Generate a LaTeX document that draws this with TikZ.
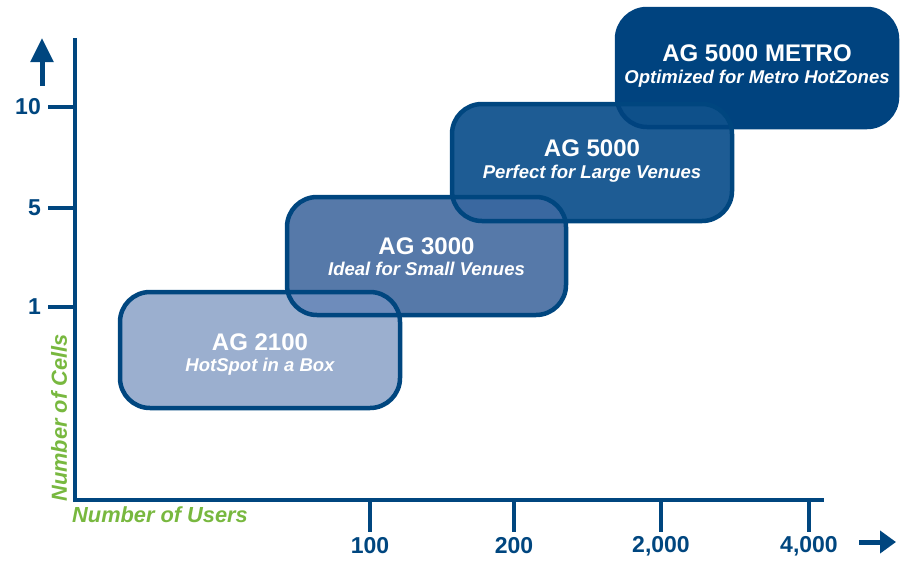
\documentclass[tikz,border=0pt]{standalone}
\usepackage{fontspec}
\setmainfont{Liberation Sans}
\usetikzlibrary{arrows.meta}
\definecolor{axisblue}{HTML}{00467F}
\definecolor{greenlab}{HTML}{78B83F}
\definecolor{boxA}{HTML}{9BAFCF}
\definecolor{boxB}{HTML}{5679A9}
\definecolor{boxC}{HTML}{1E5C94}
\definecolor{boxD}{HTML}{00437F}
\definecolor{ovAB}{HTML}{6E8CBB}
\definecolor{ovBC}{HTML}{3A68A0}
\definecolor{ovCD}{HTML}{0E508A}
\begin{document}
\begin{tikzpicture}[x=1pt,y=-1pt,
  axisline/.style={draw=axisblue, line width=3.5pt},
  tickline/.style={draw=axisblue, line width=4.5pt},
  bigarrow/.style={draw=axisblue, line width=5pt, -{Triangle[length=24pt,width=22pt]}},
  boxshape/.style={rounded corners=30pt},
  boxline/.style={draw=axisblue, line width=4.5pt, rounded corners=30pt},
  ttl/.style={text=white, font=\fontsize{24}{27}\selectfont\bfseries, anchor=base, inner sep=0pt},
  sub/.style={text=white, font=\fontsize{18.5}{21}\selectfont\bfseries\itshape, anchor=base, inner sep=0pt},
  tkl/.style={text=axisblue, font=\fontsize{23}{25}\selectfont\bfseries, inner sep=0pt},
  axt/.style={text=greenlab, font=\fontsize{21.8}{24}\selectfont\bfseries\itshape, inner sep=0pt}
]
\useasboundingbox (0,0) rectangle (902,560);

% box corner coordinates
\coordinate (A1) at (120,292); \coordinate (A2) at (400,408);
\coordinate (B1) at (287,197); \coordinate (B2) at (566,315);
\coordinate (C1) at (452,104); \coordinate (C2) at (732,221);
\coordinate (D1) at (617,9);   \coordinate (D2) at (897,127);

% fills, back to front
\fill[boxD, boxshape] (D1) rectangle (D2);
\fill[boxC, boxshape] (C1) rectangle (C2);
\fill[boxB, boxshape] (B1) rectangle (B2);
\fill[boxA, boxshape] (A1) rectangle (A2);

% overlaps
\begin{scope}
  \clip[boxshape] (A1) rectangle (A2);
  \fill[ovAB, boxshape] (B1) rectangle (B2);
\end{scope}
\begin{scope}
  \clip[boxshape] (B1) rectangle (B2);
  \fill[ovBC, boxshape] (C1) rectangle (C2);
\end{scope}
\begin{scope}
  \clip[boxshape] (C1) rectangle (C2);
  \fill[ovCD, boxshape] (D1) rectangle (D2);
\end{scope}

% outlines
\draw[boxline, draw=boxD] (D1) rectangle (D2);
\draw[boxline] (C1) rectangle (C2);
\draw[boxline] (B1) rectangle (B2);
\draw[boxline] (A1) rectangle (A2);

% box texts
\node[ttl] (tA) at (260,350) {AG 2100};
\node[sub] (sA) at (260,371.5) {HotSpot in a Box};
\node[ttl] (tB) at (426.5,254) {AG 3000};
\node[sub] (sB) at (426.5,275) {Ideal for Small Venues};
\node[ttl] (tC) at (592,156) {AG 5000};
\node[sub] (sC) at (592,178.5) {Perfect for Large Venues};
\node[ttl] (tD) at (757,61.5) {AG 5000 METRO};
\node[sub] (sD) at (757,83.5) {Optimized for Metro HotZones};

% axes
\coordinate (ytop) at (75,38);
\coordinate (orig) at (75,500);
\coordinate (xend) at (824,500);
\draw[axisline] (ytop) -- (orig) -- (xend);

% y ticks
\foreach \yy/\lab/\nm in {107/10/ten, 208/5/five, 307/1/one} {
  \coordinate (yt\nm) at (48,\yy);
  \coordinate (ya\nm) at (75,\yy);
  \draw[tickline] (yt\nm) -- (ya\nm);
  \node[tkl, anchor=east] (yl\nm) at (41,\yy) {\lab};
}
% x ticks
\foreach \xx/\lab/\nm in {370/100/a, 514/200/b, 661/{2,000}/c, 809/{4,000}/d} {
  \coordinate (xa\nm) at (\xx,500);
  \coordinate (xt\nm) at (\xx,532);
  \draw[tickline] (xa\nm) -- (xt\nm);
  \node[tkl] (xl\nm) at (\xx,546) {\lab};
}

% direction arrows
\coordinate (uparrowS) at (42,86);
\coordinate (uparrowE) at (42,38);
\draw[bigarrow] (uparrowS) -- (uparrowE);
\coordinate (rtarrowS) at (859,542);
\coordinate (rtarrowE) at (896,542);
\draw[bigarrow, -{Triangle[length=16pt,width=22pt]}] (rtarrowS) -- (rtarrowE);

% axis titles
\node[axt, rotate=90] (ylab) at (59,418) {Number of Cells};
\node[axt, anchor=west] (xlab) at (72,515) {Number of Users};
\end{tikzpicture}
\end{document}
